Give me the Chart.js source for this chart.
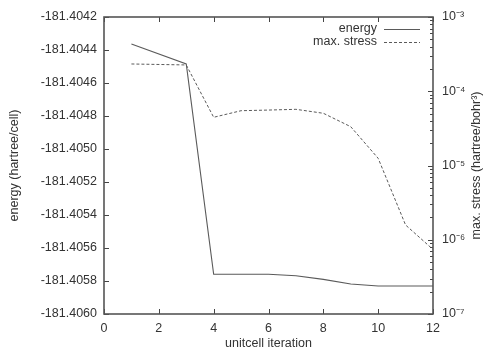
<!DOCTYPE html>
<html>
<head>
<meta charset="utf-8">
<script src="https://cdn.jsdelivr.net/npm/chart.js@4"></script>
<style>
    html, body { margin: 0; padding: 0; background: #fff; }
    #wrap { width: 485px; height: 351px; }
</style>
</head>
<body>
<div id="wrap"><canvas id="chart"></canvas></div>
<script>
// Data
const iterations = [1, 3, 4, 5, 6, 7, 8, 9, 10, 11, 12];
const energyValues = [-181.404364, -181.404485, -181.405759, -181.405759, -181.405759, -181.405768,
    -181.405790, -181.405818, -181.405830, -181.405830, -181.405830];
const stressValues = [2.33e-4, 2.26e-4, 4.46e-5, 5.47e-5, 5.58e-5, 5.71e-5,
    5.05e-5, 3.33e-5, 1.25e-5, 1.58e-6, 7.4e-7];
const stressDecades = [1e-7, 1e-6, 1e-5, 1e-4, 1e-3];
const decadeLabels = ['10⁻⁷', '10⁻⁶', '10⁻⁵', '10⁻⁴', '10⁻³'];

const FONT = 'Liberation Sans, Arial, Helvetica, sans-serif';
const INK = '#333';
const LINE = '#5a5a5a';

// Inward gnuplot-style ticks, frame, legend and right title
const gnuplotDecor = {
    id: 'gnuplotDecor',
    afterDraw(chart) {
        const c = chart.ctx;
        const a = chart.chartArea;
        const sx = chart.scales.x, sy = chart.scales.y, s2 = chart.scales.y2;
        c.save();
        c.strokeStyle = '#444';
        c.lineWidth = 1;
        c.beginPath();
        sx.ticks.forEach(t => {
            const px = Math.round(sx.getPixelForValue(t.value)) + 0.5;
            c.moveTo(px, a.bottom); c.lineTo(px, a.bottom - 5);
            c.moveTo(px, a.top); c.lineTo(px, a.top + 5);
        });
        sy.ticks.forEach(t => {
            const py = Math.round(sy.getPixelForValue(t.value)) + 0.5;
            c.moveTo(a.left, py); c.lineTo(a.left + 5, py);
        });
        stressDecades.forEach(v => {
            const py = Math.round(s2.getPixelForValue(v)) + 0.5;
            c.moveTo(a.right, py); c.lineTo(a.right - 5, py);
        });
        for (let d = 0; d < 4; d++) {
            for (let m = 2; m <= 9; m++) {
                const py = Math.round(s2.getPixelForValue(m * stressDecades[d])) + 0.5;
                c.moveTo(a.right, py); c.lineTo(a.right - 3, py);
            }
        }
        c.stroke();

        // frame
        c.strokeStyle = '#555';
        c.lineWidth = 1.6;
        c.strokeRect(a.left, a.top, a.right - a.left, a.bottom - a.top);

        // legend
        c.font = '12.5px ' + FONT;
        c.fillStyle = INK;
        c.textAlign = 'right';
        c.textBaseline = 'middle';
        chart.data.datasets.forEach((ds, i) => {
            const y = 29 + i * 13;
            c.fillText(ds.label, 377, y);
            c.strokeStyle = ds.borderColor;
            c.lineWidth = 1;
            c.setLineDash(ds.borderDash || []);
            c.beginPath();
            c.moveTo(384, y + 0.5); c.lineTo(420, y + 0.5);
            c.stroke();
        });
        c.setLineDash([]);

        // right axis title, reading bottom to top
        c.translate(477, (a.top + a.bottom) / 2);
        c.rotate(-Math.PI / 2);
        c.textAlign = 'center';
        c.fillText('max. stress (hartree/bohr³)', 0, 0);
        c.restore();
    }
};

const ctx = document.getElementById('chart').getContext('2d');
const chart = new Chart(ctx, {
    type: 'line',
    data: {
        datasets: [{
            label: 'energy',
            data: iterations.map((x, i) => ({ x: x, y: energyValues[i] })),
            yAxisID: 'y',
            borderColor: LINE,
            borderWidth: 1.1,
            pointRadius: 0,
            tension: 0
        }, {
            label: 'max. stress',
            data: iterations.map((x, i) => ({ x: x, y: stressValues[i] })),
            yAxisID: 'y2',
            borderColor: LINE,
            borderWidth: 1,
            borderDash: [3, 2],
            pointRadius: 0,
            tension: 0
        }]
    },
    options: {
        responsive: true,
        maintainAspectRatio: false,
        animation: false,
        layout: { padding: { top: 17, left: 0, right: 0, bottom: 0 } },
        plugins: {
            legend: { display: false },
            tooltip: { enabled: false }
        },
        scales: {
            x: {
                type: 'linear',
                min: 0,
                max: 12,
                grid: { display: false, drawTicks: false },
                border: { display: false },
                ticks: {
                    stepSize: 2,
                    padding: 7,
                    color: INK,
                    font: { family: FONT, size: 12.5 }
                },
                title: {
                    display: true,
                    text: 'unitcell iteration',
                    color: INK,
                    padding: { top: 3, bottom: 0 },
                    font: { family: FONT, size: 12.5 }
                },
                afterFit: s => { s.height = 37; }
            },
            y: {
                type: 'linear',
                position: 'left',
                min: -181.4060,
                max: -181.4042,
                grid: { display: false, drawTicks: false },
                border: { display: false },
                ticks: {
                    stepSize: 0.0002,
                    padding: 7,
                    color: INK,
                    font: { family: FONT, size: 12.5 },
                    callback: v => v.toFixed(4)
                },
                title: {
                    display: true,
                    text: 'energy (hartree/cell)',
                    color: INK,
                    padding: { top: 7, bottom: 0 },
                    font: { family: FONT, size: 12.5 }
                },
                afterFit: s => { s.width = 104; }
            },
            y2: {
                type: 'logarithmic',
                position: 'right',
                min: 1e-7,
                max: 1e-3,
                grid: { display: false, drawTicks: false },
                border: { display: false },
                afterBuildTicks: s => { s.ticks = stressDecades.map(v => ({ value: v })); },
                ticks: {
                    autoSkip: false,
                    padding: 9,
                    color: INK,
                    font: { family: FONT, size: 12.5 },
                    callback: (v, i) => decadeLabels[stressDecades.indexOf(v)] || ''
                },
                afterFit: s => { s.width = 52; }
            }
        }
    },
    plugins: [gnuplotDecor]
});
</script>
</body>
</html>
